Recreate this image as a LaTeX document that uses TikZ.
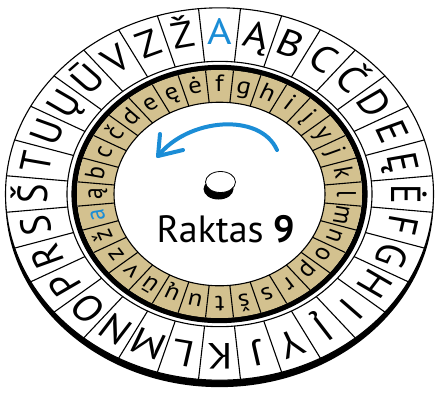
\documentclass[tikz,border=0pt]{standalone}
\usepackage{fontspec}
\setmainfont{PT Sans}
\definecolor{tanring}{RGB}{211,193,143}
\definecolor{wblue}{RGB}{27,141,214}
\begin{document}
\begin{tikzpicture}[x=1pt,y=1pt,
  outerletter/.style={font=\fontsize{42}{42}\selectfont, anchor=base, inner sep=0pt, transform shape},
  innerletter/.style={font=\fontsize{27}{27}\selectfont, anchor=base, inner sep=0pt, transform shape},
  thinline/.style={line width=1.1pt},
  arrowline/.style={wblue, line width=4pt, line cap=round, line join=round}]
\useasboundingbox (0,0) rectangle (435,-392);
\begin{scope}[shift={(219.5,-194)}, yscale=0.87]
  % outer disc with thickness
  \fill (0,-8) circle (214);
  \filldraw[fill=white, thinline] (0,0) circle (214);
  \draw[thinline] (0,0) circle (152.5);
  \foreach \k in {0,...,31}
    \draw[thinline] ({90-(\k+0.5)*11.25}:152.5) -- ({90-(\k+0.5)*11.25}:214);
  \foreach \L [count=\k from 0] in {A,Ą,B,C,Č,D,E,Ę,Ė,F,G,H,I,Į,Y,J,K,L,M,N,O,P,R,S,Š,T,U,Ų,Ū,V,Z,Ž} {
    \pgfmathsetmacro\ang{90-\k*11.25}
    \ifnum\k=0 \def\col{wblue}\else\def\col{black}\fi
    \node[outerletter, text=\col, rotate=\ang-90] (o\k) at (\ang:172) {\L};
  }
  % inner disc
  \draw[line width=5.5pt] (0,0) circle (145.3);
  \fill[tanring, even odd rule] (0,0) circle (142.5) (0,0) circle (105.5);
  \draw[thinline] (0,0) circle (105.5);
  \foreach \k in {0,...,31}
    \draw[thinline] ({90-(\k+0.5)*11.25}:105.5) -- ({90-(\k+0.5)*11.25}:142.5);
  \foreach \L [count=\k from 0] in {a,ą,b,c,č,d,e,ę,ė,f,g,h,i,į,y,j,k,l,m,n,o,p,r,s,š,t,u,ų,ū,v,z,ž} {
    \pgfmathsetmacro\ang{90-(\k-9)*11.25}
    \ifnum\k=0 \def\col{wblue}\else\def\col{black}\fi
    \node[innerletter, text=\col, rotate=\ang-90] (i\k) at (\ang:117.5) {\L};
  }
\end{scope}
% peg
\fill (218.5,-189) ellipse (15 and 10.5);
\filldraw[fill=white, line width=0.8pt] (220.5,-182) ellipse (15 and 10.5);
\coordinate (peg) at (220.5,-182);
% arrow
\coordinate (as) at (277,-150);
\coordinate (ae) at (158,-156);
\coordinate (b1) at (160,-134);
\coordinate (b2) at (183,-150);
\draw[arrowline] (as) .. controls (260,-112) and (188,-118) .. (ae);
\draw[arrowline] (b1) -- (ae) -- (b2);
% key text
\node[font=\fontsize{38}{38}\selectfont, anchor=base, inner sep=0pt] (key) at (226,-242) {Raktas \textbf{9}};
\end{tikzpicture}
\end{document}
